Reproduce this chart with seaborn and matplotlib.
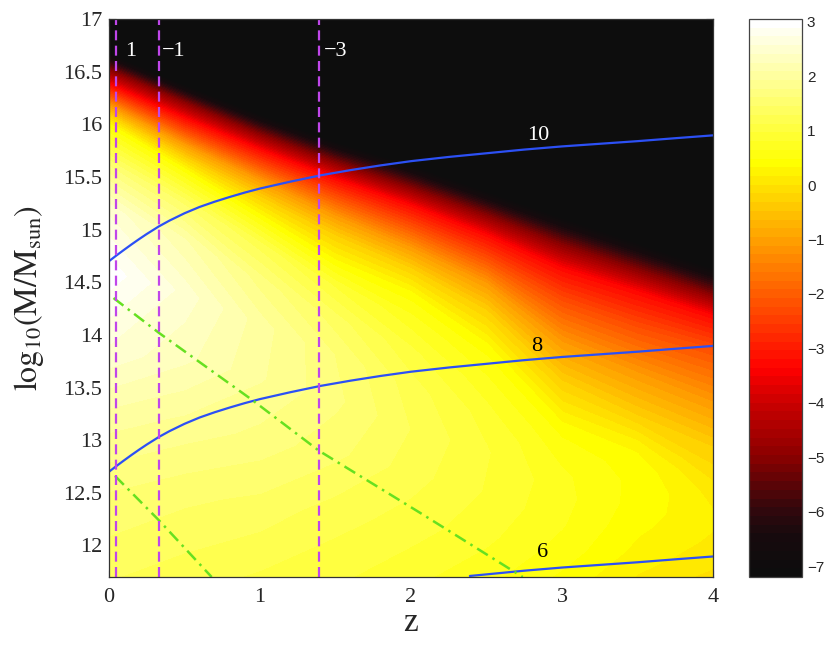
import numpy as np
import pandas as pd
import matplotlib
matplotlib.use("Agg")
import matplotlib.pyplot as plt
import seaborn as sns
from matplotlib.colors import LinearSegmentedColormap

# ---------------- data ----------------
# filled field: columns at these redshifts, each with its own mass samples
field_z = [0.0, 0.5, 1.0, 1.5, 2.0, 2.5, 3.0, 3.5, 4.0]
field_M = [
    [11.7, 12.5, 13.2, 13.8, 14.6, 15.2, 15.6, 15.99, 16.08, 16.17, 16.27, 16.37, 16.51, 16.67, 17.0],
    [11.7, 12.5, 13.2, 13.8, 14.4, 14.9, 15.25, 15.56, 15.68, 15.80, 15.92, 16.05, 16.20, 16.37, 17.0],
    [11.7, 12.4, 13.0, 13.6, 14.1, 14.5, 14.85, 15.12, 15.30, 15.46, 15.60, 15.75, 15.90, 16.09, 17.0],
    [11.7, 12.3, 12.9, 13.4, 13.8, 14.15, 14.45, 14.68, 14.93, 15.12, 15.30, 15.47, 15.63, 15.83, 17.0],
    [11.7, 12.2, 12.7, 13.1, 13.5, 13.85, 14.15, 14.38, 14.62, 14.82, 15.02, 15.22, 15.39, 15.61, 17.0],
    [11.7, 12.1, 12.5, 12.9, 13.2, 13.5, 13.7, 13.88, 14.22, 14.48, 14.71, 14.94, 15.13, 15.36, 17.0],
    [11.7, 11.95, 12.2, 12.45, 12.65, 12.85, 13.0, 13.15, 13.55, 13.92, 14.3, 14.62, 14.85, 15.11, 17.0],
    [11.7, 11.95, 12.2, 12.4, 12.6, 12.75, 12.88, 13.0, 13.22, 13.63, 14.05, 14.40, 14.61, 14.87, 17.0],
    [11.7, 11.85, 12.0, 12.15, 12.3, 12.45, 12.58, 12.7, 12.92, 13.35, 13.85, 14.17, 14.37, 14.63, 17.0],
]
field_v = [
    [1.3, 1.6, 2.0, 2.5, 3.0, 2.5, 1.6, 0.4, -0.3, -1.1, -2.2, -3.3, -5.0, -7.2, -7.2],
    [1.2, 1.5, 1.9, 2.3, 2.5, 2.1, 1.4, 0.4, -0.3, -1.1, -2.2, -3.3, -5.0, -7.2, -7.2],
    [1.1, 1.4, 1.7, 1.95, 2.0, 1.7, 1.2, 0.4, -0.3, -1.1, -2.2, -3.3, -5.0, -7.2, -7.2],
    [1.0, 1.2, 1.5, 1.65, 1.6, 1.35, 0.95, 0.4, -0.3, -1.1, -2.2, -3.3, -5.0, -7.2, -7.2],
    [0.85, 1.05, 1.2, 1.28, 1.2, 1.0, 0.7, 0.4, -0.3, -1.1, -2.2, -3.3, -5.0, -7.2, -7.2],
    [0.7, 0.85, 0.95, 0.98, 0.9, 0.72, 0.58, 0.4, -0.3, -1.1, -2.2, -3.3, -5.0, -7.2, -7.2],
    [0.45, 0.58, 0.66, 0.7, 0.68, 0.6, 0.5, 0.35, -0.3, -1.1, -2.2, -3.3, -5.0, -7.2, -7.2],
    [0.15, 0.28, 0.37, 0.42, 0.43, 0.4, 0.32, 0.15, -0.3, -1.1, -2.2, -3.3, -5.0, -7.2, -7.2],
    [-0.05, 0.05, 0.12, 0.17, 0.18, 0.12, 0.03, -0.1, -0.3, -1.1, -2.2, -3.3, -5.0, -7.2, -7.2],
]

# blue curves
curve_z = [0.0, 0.05, 0.1, 0.15, 0.2, 0.25, 0.33, 0.4, 0.5, 0.6, 0.7, 0.8, 0.9, 1.0,
           1.2, 1.4, 1.6, 1.8, 2.0, 2.25, 2.5, 2.75, 3.0, 3.25, 3.5, 3.75, 4.0]
curve10_M = [14.700, 14.755, 14.808, 14.860, 14.910, 14.958, 15.030, 15.085, 15.155, 15.215,
             15.265, 15.310, 15.352, 15.390, 15.455, 15.515, 15.565, 15.610, 15.650, 15.690,
             15.725, 15.760, 15.790, 15.815, 15.840, 15.868, 15.895]
curve8_M = [12.700, 12.755, 12.808, 12.860, 12.910, 12.958, 13.030, 13.085, 13.155, 13.215,
            13.265, 13.310, 13.352, 13.390, 13.455, 13.515, 13.565, 13.610, 13.650, 13.690,
            13.725, 13.760, 13.790, 13.815, 13.840, 13.868, 13.895]
curve6_z = [2.39, 2.5, 2.75, 3.0, 3.25, 3.5, 3.75, 4.0]
curve6_M = [11.710, 11.725, 11.760, 11.790, 11.815, 11.840, 11.868, 11.895]
curve_labels = ["10", "8", "6"]
curve_label_z = [2.84, 2.83, 2.87]
curve_label_M = [15.89, 13.89, 11.93]
curve_label_colors = ["white", "black", "black"]

# green dash-dot lines
greenA_z = [0.03, 0.33, 0.95, 1.39, 2.06, 2.74]
greenA_M = [14.35, 14.02, 13.38, 12.90, 12.31, 11.70]
greenB_z = [0.04, 0.33, 0.68]
greenB_M = [12.66, 12.24, 11.70]

# magenta vertical lines
vline_z = [0.046, 0.33, 1.39]
vline_labels = ["1", "\u22121", "\u22123"]
vline_label_z = [0.11, 0.35, 1.42]

x_ticks = [0, 1, 2, 3, 4]
y_ticks = [12, 12.5, 13, 13.5, 14, 14.5, 15, 15.5, 16, 16.5, 17]
cbar_ticks = [-7, -6, -5, -4, -3, -2, -1, 0, 1, 2, 3]
vmin, vmax = -7.2, 3.05

# ---------------- style ----------------
sns.set_style("ticks")
plt.rcParams["font.family"] = ["Liberation Serif", "DejaVu Serif"]
plt.rcParams["mathtext.fontset"] = "stix"

def c(v):
    return (v - vmin) / (vmax - vmin)

cmap = LinearSegmentedColormap.from_list(
    "hotlike",
    [(c(-7.2), (0.05, 0.05, 0.05)),
     (c(-6.5), (0.09, 0.04, 0.05)),
     (c(-6.0), (0.20, 0.03, 0.05)),
     (c(-5.0), (0.55, 0.0, 0.0)),
     (c(-4.0), (0.80, 0.0, 0.0)),
     (c(-3.4), (1.0, 0.0, 0.0)),
     (c(0.45), (1.0, 1.0, 0.0)),
     (c(3.05), (1.0, 1.0, 1.0))],
    N=64,
)

fig = plt.figure(figsize=(8.3, 6.45), dpi=100)
ax = fig.add_axes([0.1313, 0.1054, 0.7277, 0.8651])
cax = fig.add_axes([0.9024, 0.1054, 0.0639, 0.8651])

Zg = np.repeat(np.array(field_z)[None, :], len(field_M[0]), axis=0)
Mg = np.array(field_M).T
Vg = np.array(field_v).T
levels = np.linspace(vmin - 0.001, vmax, 65)
cf = ax.contourf(Zg, Mg, Vg, levels=levels, cmap=cmap, vmin=vmin, vmax=vmax, antialiased=False)
cf.set_edgecolor("face")
cf.set_linewidth(0.6)

blue = "#2c50f5"
for zz, mm in [(curve_z, curve10_M), (curve_z, curve8_M), (curve6_z, curve6_M)]:
    sns.lineplot(x=zz, y=mm, ax=ax, color=blue, lw=1.6, sort=False, estimator=None)

green = "#66e020"
for zz, mm in [(greenA_z, greenA_M), (greenB_z, greenB_M)]:
    sns.lineplot(x=zz, y=mm, ax=ax, color=green, lw=1.8, sort=False, estimator=None,
                 linestyle=(0, (5, 2.2, 1, 2.2)))

for zv in vline_z:
    ax.axvline(zv, color="#c046ea", lw=1.6, linestyle=(0, (4.5, 2.4)))

for t, zz in zip(vline_labels, vline_label_z):
    ax.text(zz, 16.69, t, color="white", fontsize=16, ha="left", va="center")

for t, zz, mm, col in zip(curve_labels, curve_label_z, curve_label_M, curve_label_colors):
    ax.text(zz, mm, t, color=col, fontsize=16, ha="center", va="center")

ax.set_xlim(0, 4)
ax.set_ylim(11.7, 17)
ax.set_xticks(x_ticks)
ax.set_xticklabels([str(v) for v in x_ticks])
ax.set_yticks(y_ticks)
ax.set_yticklabels([("%g" % v) for v in y_ticks])
ax.tick_params(direction="in", top=True, right=True, length=5, width=0.8,
               labelsize=16, color="#222222")
ax.tick_params(axis="x", pad=8)
ax.tick_params(axis="y", pad=5)
for s in ax.spines.values():
    s.set_color("#333333")
    s.set_linewidth(0.9)
ax.set_xlabel("z", fontsize=24, labelpad=0)
ax.set_ylabel(r"$\mathrm{log_{10}(M/M_{sun})}$", fontsize=23, labelpad=12)

cb = fig.colorbar(cf, cax=cax, ticks=cbar_ticks)
cb.outline.set_edgecolor("#444444")
cb.outline.set_linewidth(0.9)
cax.tick_params(direction="in", left=True, right=True, length=4, width=0.8, color="#333333")
cax.set_yticklabels(["\u2212%d" % -v if v < 0 else "%d" % v for v in cbar_ticks],
                    fontsize=11, family="Liberation Sans")

fig.savefig("out.png", dpi=100)
